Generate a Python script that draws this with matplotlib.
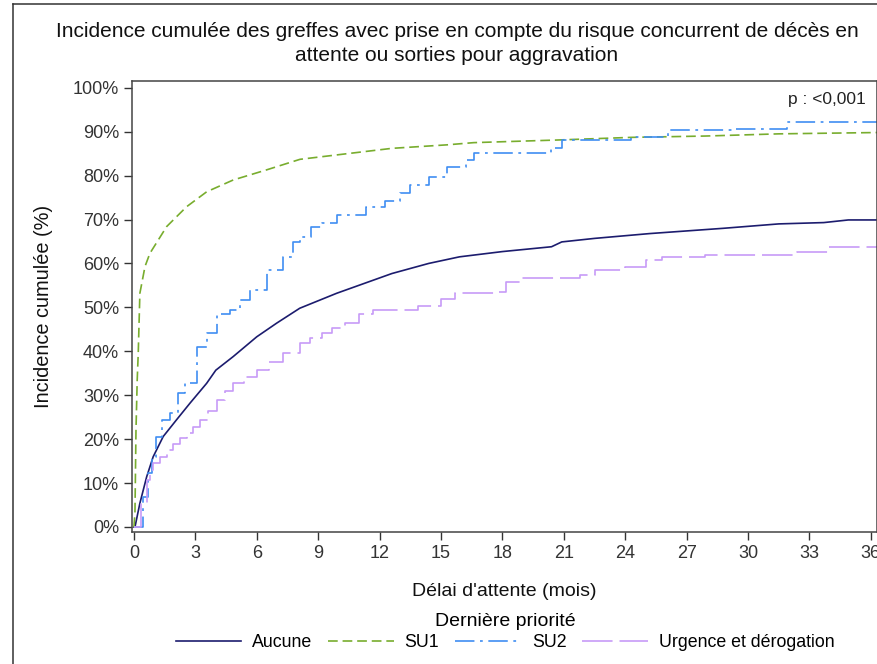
import matplotlib
matplotlib.use("Agg")
import matplotlib.pyplot as plt
from matplotlib.lines import Line2D

plt.rcParams['font.family'] = ['Liberation Sans', 'DejaVu Sans']
plt.rcParams['lines.scale_dashes'] = False

# cumulative incidence (%) vs waiting time (months)
aucune_t = [0, 0.05, 0.29, 0.62, 0.94, 1.43, 2.08, 2.74, 3.55, 4.0, 4.85, 6.0, 6.97, 8.1,
            9.9, 11.7, 12.6, 14.4, 15.9, 18.0, 20.4, 20.9, 22.5, 25.2, 28.8, 31.5, 33.7, 34.9, 36.3]
aucune_y = [0, 0, 5.4, 11.4, 16.0, 20.6, 24.4, 28.2, 32.7, 35.7, 38.8, 43.3, 46.4, 49.8,
            53.2, 56.2, 57.7, 60.0, 61.5, 62.7, 63.8, 64.9, 65.7, 66.8, 68.0, 69.0, 69.3, 69.9, 69.9]

su1_t = [0, 0.05, 0.1, 0.16, 0.21, 0.29, 0.54, 0.78, 1.6, 2.57, 3.55, 4.85, 6.48, 8.11,
         9.9, 12.6, 15.3, 16.6, 20.7, 24.3, 27.9, 31.5, 36.3]
su1_y = [0, 3.2, 22.0, 33.5, 39.5, 53.2, 59.3, 62.3, 68.4, 72.9, 76.3, 79.0, 81.3, 83.7,
         84.7, 86.2, 87.0, 87.5, 88.1, 88.7, 89.0, 89.5, 89.8]

su2_t = [0, 0.13, 0.45, 0.7, 0.86, 1.1, 1.35, 1.76, 2.16, 2.49, 3.06, 3.55, 4.04, 4.69, 5.18,
         5.67, 6.48, 7.3, 7.78, 8.11, 8.65, 9.2, 9.9, 11.35, 12.25, 13.0, 13.5, 14.4, 15.3,
         16.2, 16.6, 20.35, 20.9, 24.3, 26.1, 29.2, 31.9, 36.3]
su2_y = [0, 0, 6.9, 12.2, 16.0, 20.6, 24.4, 25.9, 30.4, 32.7, 41.0, 44.1, 48.6, 49.4, 51.7,
         54.0, 58.5, 61.5, 64.9, 66.0, 68.4, 69.1, 71.0, 72.9, 74.1, 76.0, 77.8, 79.7, 82.0,
         83.5, 85.1, 86.2, 88.1, 88.8, 90.4, 90.7, 92.3, 92.3]

urg_t = [0, 0.13, 0.35, 0.62, 0.8, 0.94, 1.27, 1.6, 1.92, 2.25, 2.57, 2.9, 3.22, 3.6, 4.04,
         4.45, 4.85, 5.4, 6.0, 6.6, 7.3, 8.1, 8.6, 9.2, 9.7, 10.3, 11.0, 11.7, 13.9, 15.0,
         15.7, 17.6, 18.2, 18.9, 21.8, 22.5, 24.0, 25.0, 25.8, 27.9, 32.4, 33.9, 36.3]
urg_y = [0, 0, 5.5, 10.7, 13.0, 14.5, 16.0, 17.5, 19.0, 20.2, 21.3, 22.8, 24.4, 26.5, 28.9,
         31.0, 32.7, 34.2, 35.7, 37.5, 39.5, 41.8, 43.0, 44.1, 45.2, 46.4, 48.6, 49.4, 50.2, 52.0,
         53.2, 53.6, 55.8, 56.6, 57.4, 58.5, 59.3, 60.8, 61.5, 61.9, 62.7, 63.8, 64.0]

x_ticks = list(range(0, 37, 3))
y_ticks = list(range(0, 101, 10))

W, H = 878, 664
fig = plt.figure(figsize=(W / 100, H / 100), dpi=100)
ax = fig.add_axes([132.3 / W, (H - 531.7) / H, (877 - 132.3) / W, (531.7 - 80.7) / H])

ax.plot(aucune_t, aucune_y, color='#1c1c6e', lw=1.2, label='Aucune')
ax.plot(su1_t, su1_y, color='#78ad2e', lw=1.2, ls=(0, (7, 3.5)), label='SU1')
ax.plot(su2_t, su2_y, color='#3f8ef2', lw=1.2, ls=(0, (14, 4, 2, 4)),
        drawstyle='steps-post', label='SU2')
ax.plot(urg_t, urg_y, color='#c79bf7', lw=1.2, ls=(0, (22, 5)),
        drawstyle='steps-post', label='Urgence et dérogation')

ax.set_xlim(-0.08, 36.3)
ax.set_ylim(-1.07, 101.6)
ax.set_xticks(x_ticks)
ax.set_yticks(y_ticks)
ax.set_yticklabels([f"{v}%" for v in y_ticks])
ax.tick_params(direction='out', length=5.5, width=1, colors='#333333',
               labelsize=13, labelcolor='#333333', pad=4)
for s in ax.spines.values():
    s.set_color('#444444')
    s.set_linewidth(1.1)

ax.set_xlabel("Délai d'attente (mois)", fontsize=14, color='#111111', labelpad=15)
ax.set_ylabel("Incidence cumulée (%)", fontsize=14.4, color='#111111', labelpad=14)

ax.text(0.985, 0.959, "p : <0,001", transform=ax.transAxes, ha='right', va='center',
        fontsize=12.5, color='#222222')

fig.text(457 / W, 1 - 43.5 / H,
         "Incidence cumulée des greffes avec prise en compte du risque concurrent de décès en\n"
         "attente ou sorties pour aggravation",
         ha='center', va='center', fontsize=15, color='#111111', linespacing=1.32)

leg = fig.legend(loc='center', bbox_to_anchor=(505 / W, 1 - 632 / H), ncol=4,
                 frameon=False, fontsize=12.8, title='Dernière priorité',
                 title_fontsize=14, handlelength=3.7, handletextpad=0.6,
                 columnspacing=0.9, borderpad=0.1, labelspacing=0.2)

# outer frame (clipped on the right and bottom in the reference)
fig.add_artist(Line2D([13 / W, 13 / W], [0, 1 - 4 / H], color='#333333', lw=1.1))
fig.add_artist(Line2D([13 / W, 1], [1 - 4 / H, 1 - 4 / H], color='#333333', lw=1.1))

fig.savefig("out.png", dpi=100)
